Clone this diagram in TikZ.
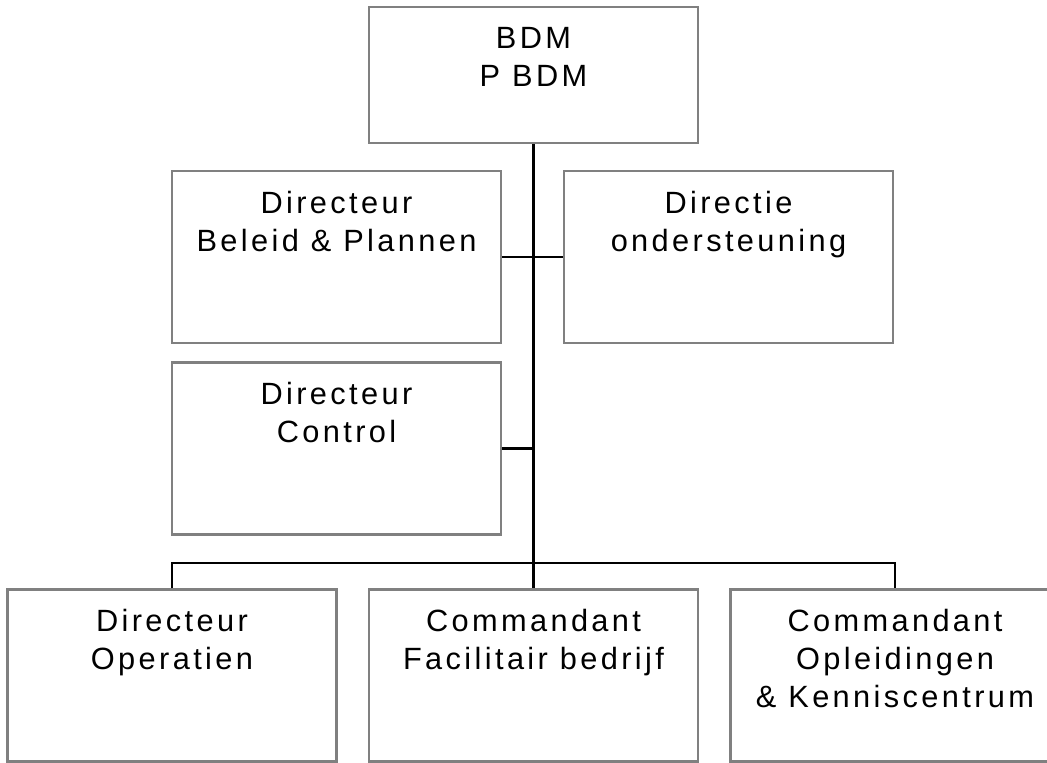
\documentclass[tikz,border=0pt]{standalone}
\usepackage{fontspec}
\setmainfont{Liberation Sans}
\newfontfamily\orgfont[LetterSpace=11]{Liberation Sans}

\begin{document}
\begin{tikzpicture}[x=0.02cm, y=-0.02cm,
        box/.style={draw=gray, line width=1.4pt, fill=white, inner sep=0pt,
            minimum width=6.58cm, minimum height=3.44cm},
        txt/.style={anchor=north, align=center, inner sep=0pt,
            font=\orgfont\fontsize{17.5}{21.5}\selectfont},
        link/.style={draw=black, line width=1.5pt}]
    \useasboundingbox (0,0) rectangle (1047,762);

    % boxes
    \node[box, minimum height=2.72cm] (bdm) at (533.5,75) {};
    \node[box] (beleid) at (336.5,257) {};
    \node[box] (onderst) at (728.5,257) {};
    \node[box] (control) at (336.5,448.5) {};
    \node[box] (operatien) at (172,675.5) {};
    \node[box] (facilitair) at (533.5,675.5) {};
    \node[box] (opleiding) at (895,675.5) {};

    % texts
    \node[txt] (bdmtxt) at ([yshift=-0.42cm]bdm.north) {BDM\\P BDM};
    \node[txt] (beleidtxt) at ([yshift=-0.42cm]beleid.north)
        {Directeur\\Beleid \& Plannen};
    \node[txt] (onderstxt) at ([yshift=-0.42cm]onderst.north)
        {Directie\\ondersteuning};
    \node[txt] (controltxt) at ([yshift=-0.42cm]control.north)
        {Directeur\\Control};
    \node[txt] (operatientxt) at ([yshift=-0.42cm]operatien.north)
        {Directeur\\Operatien};
    \node[txt] (facilitairtxt) at ([yshift=-0.42cm]facilitair.north)
        {Commandant\\Facilitair bedrijf};
    \node[txt] (opleidingtxt) at ([yshift=-0.42cm]opleiding.north)
        {Commandant\\Opleidingen\\\& Kenniscentrum};

    % lines
    \coordinate (bus) at (533.5,563);
    \draw[link] (bdm.south) -- (facilitair.north);
    \draw[link] (beleid.east) -- (onderst.west);
    \draw[link] (control.east) -- (control.east -| bdm.south);
    \draw[link] (operatien.north) |- (bus) -| (opleiding.north);
\end{tikzpicture}
\end{document}
